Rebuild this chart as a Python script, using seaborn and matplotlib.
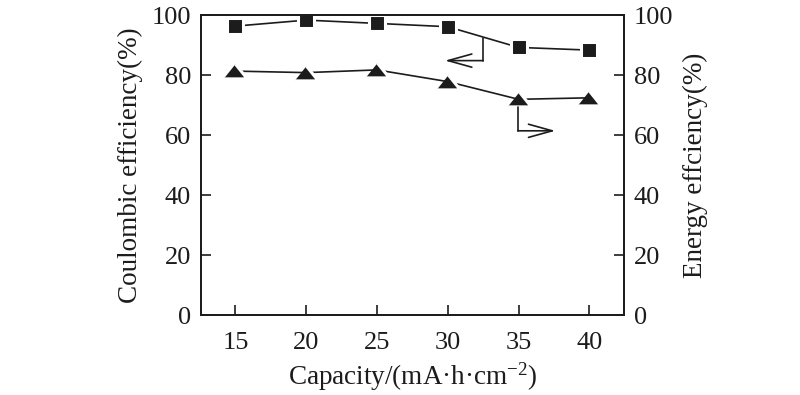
import numpy as np
import pandas as pd
import seaborn as sns
import matplotlib.pyplot as plt

sns.set_style("ticks")
plt.rcParams['font.family'] = ['Liberation Serif', 'DejaVu Serif']
plt.rcParams['mathtext.fontset'] = 'custom'
plt.rcParams['mathtext.rm'] = 'Liberation Serif'
plt.rcParams['mathtext.it'] = 'Liberation Serif:italic'
plt.rcParams.update({'font.size': 19})

capacity = [15, 20, 25, 30, 35, 40]
coulombic = [96.3, 98.3, 97.2, 96.1, 89.2, 88.3]
energy = [81.3, 80.8, 81.7, 77.8, 71.9, 72.4]
yticks = [0, 20, 40, 60, 80, 100]

df = pd.DataFrame({"capacity": capacity, "coulombic": coulombic, "energy": energy})

ink = "#1c1c1c"
fig = plt.figure(figsize=(8, 3.95), dpi=100)
ax = fig.add_axes([0.251, 0.2025, 0.529, 0.7595])
ax2 = ax.twinx()

tri = [(-1.6, -1), (1.6, -1), (0, 1)]
sns.lineplot(data=df, x="capacity", y="coulombic", ax=ax, color=ink,
             marker="s", markersize=11, markeredgecolor="white",
             markeredgewidth=2.2, linewidth=1.2)
sns.lineplot(data=df, x="capacity", y="energy", ax=ax2, color=ink,
             marker=tri, markersize=17, markeredgecolor="white",
             markeredgewidth=2.2, linewidth=1.2)

# bent arrows pointing to each axis
ax.plot([32.5, 32.5], [92.3, 84.8], color=ink, lw=1.2)
ax.annotate("", xy=(29.8, 84.8), xytext=(32.5, 84.8),
            arrowprops=dict(arrowstyle="->,head_length=0.9,head_width=0.25",
                            color=ink, lw=1.2, shrinkA=0, shrinkB=0))
ax2.plot([34.95, 34.95], [69.5, 61.4], color=ink, lw=1.2)
ax2.annotate("", xy=(37.6, 61.4), xytext=(34.95, 61.4),
             arrowprops=dict(arrowstyle="->,head_length=0.9,head_width=0.25",
                             color=ink, lw=1.2, shrinkA=0, shrinkB=0))

for a in (ax, ax2):
    a.set_xlim(12.55, 42.45)
    a.set_ylim(0, 100)
    a.set_yticks(yticks)
    for s in a.spines.values():
        s.set_linewidth(1.3)
        s.set_color(ink)
    a.tick_params(direction="in", length=7, width=1.2, pad=7,
                  colors=ink, labelsize=19)

ax.set_xticks(capacity)
ax.tick_params(axis="x", top=False, pad=12)
ax.set_xlabel("Capacity/(mA·h·cm$^{-2}$)", fontsize=19.5, color=ink, labelpad=5)
ax.set_ylabel("Coulombic efficiency(%)", fontsize=19.5, color=ink, labelpad=6)
ax2.set_ylabel("Energy effciency(%)", fontsize=19.5, color=ink, labelpad=7)

fig.savefig("out.png", dpi=100)
